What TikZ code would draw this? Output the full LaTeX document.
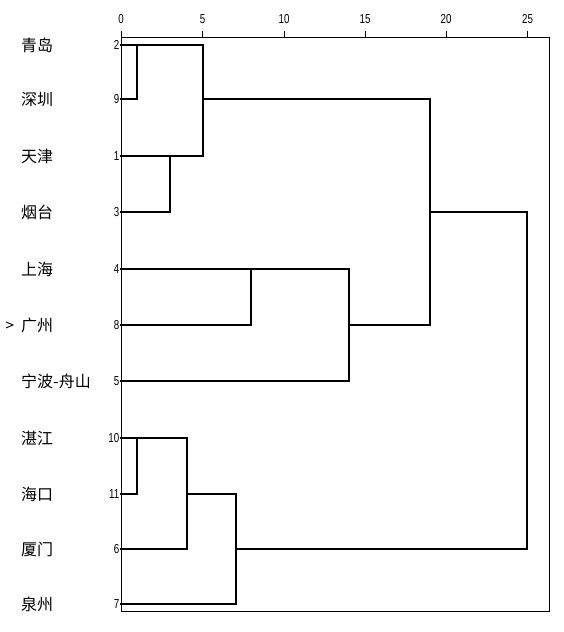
\documentclass[tikz,border=0pt]{standalone}
\usepackage{fontspec}
\setmainfont{Liberation Sans}
\newfontfamily\cjk{Noto Sans CJK SC}
\newfontfamily\narrowfont[FakeStretch=0.75]{Liberation Sans}
\begin{document}
\begin{tikzpicture}[x=1pt,y=-1pt,
  den/.style={line width=1.3pt,line cap=rect},
  frame/.style={line width=0.8pt},
  city/.style={anchor=west,inner sep=0pt,font=\cjk\fontsize{16}{16}\selectfont},
  num/.style={anchor=east,inner sep=0pt,font=\narrowfont\fontsize{13}{13}\selectfont},
  tick/.style={anchor=base,inner sep=0pt,font=\narrowfont\fontsize{13}{13}\selectfont}]
\useasboundingbox (0,0) rectangle (563,632);
% frame and axis
\draw[frame] (121,37) rectangle (549,611);
\foreach \v/\xx in {0/121,5/202.5,10/284,15/365,20/446,25/527.5}{
  \draw[frame] (\xx,31) -- (\xx,37);
  \node[tick] (t\v) at (\xx,23) {\v};
}
% city labels and numbers
\foreach \c/\n/\yy in {青岛/2/45,深圳/9/99,天津/1/156,烟台/3/212,上海/4/269,广州/8/325,宁波-舟山/5/381,湛江/10/438,海口/11/494,厦门/6/549,泉州/7/604}{
  \node[city] (c\n) at (21,\yy) {\c};
  \node[num] (n\n) at (119.5,\yy) {\n};
}
\draw[line width=0.9pt] (6,322) -- (13,325) -- (6,328);
% dendrogram
\draw[den] (121,45) -- (203,45);
\draw[den] (121,99) -- (137,99) -- (137,45);
\draw[den] (121,156) -- (203,156);
\draw[den] (203,45) -- (203,156);
\draw[den] (121,212) -- (170,212) -- (170,156);
\draw[den] (203,99) -- (430,99) -- (430,325);
\draw[den] (121,269) -- (349,269);
\draw[den] (121,325) -- (251,325) -- (251,269);
\draw[den] (121,381) -- (349,381) -- (349,269);
\draw[den] (349,325) -- (430,325);
\draw[den] (430,212) -- (527,212) -- (527,549);
\draw[den] (121,438) -- (187,438) -- (187,549);
\draw[den] (121,494) -- (137,494) -- (137,438);
\draw[den] (121,549) -- (187,549);
\draw[den] (187,494) -- (236,494) -- (236,604) -- (121,604);
\draw[den] (236,549) -- (527,549);
\end{tikzpicture}
\end{document}
